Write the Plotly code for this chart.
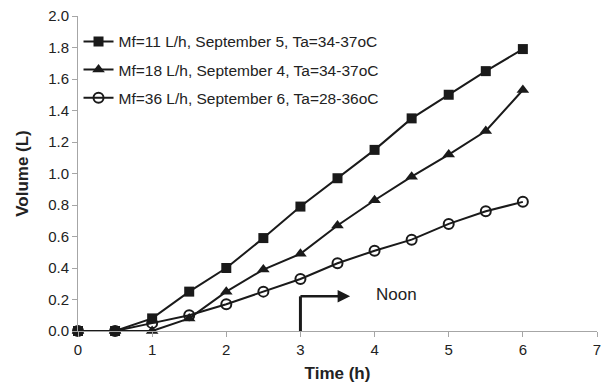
import plotly.graph_objects as go

time_h = [0, 0.5, 1, 1.5, 2, 2.5, 3, 3.5, 4, 4.5, 5, 5.5, 6]
vol_mf11 = [0, 0, 0.08, 0.25, 0.40, 0.59, 0.79, 0.97, 1.15, 1.35, 1.50, 1.65, 1.79]
vol_mf18 = [0, 0, 0.0, 0.08, 0.25, 0.39, 0.49, 0.67, 0.83, 0.98, 1.12, 1.27, 1.53]
vol_mf36 = [0, 0, 0.05, 0.10, 0.17, 0.25, 0.33, 0.43, 0.51, 0.58, 0.68, 0.76, 0.82]
names = ["Mf=11 L/h, September 5, Ta=34-37oC",
         "Mf=18 L/h, September 4, Ta=34-37oC",
         "Mf=36 L/h, September 6, Ta=28-36oC"]
noon_time = 3
noon_arrow_end = 3.67
noon_level = 0.22

INK = "#1a1a1a"
fig = go.Figure()
fig.add_trace(go.Scatter(x=time_h, y=vol_mf11, name=names[0], mode="lines+markers",
                         legendgroup="a", cliponaxis=False,
                         line=dict(color=INK, width=2),
                         marker=dict(symbol="square", size=10, color=INK)))
fig.add_trace(go.Scatter(x=time_h, y=vol_mf18, name=names[1], mode="lines+markers",
                         legendgroup="b", cliponaxis=False,
                         line=dict(color=INK, width=2),
                         marker=dict(symbol="triangle-up", size=11, color=INK)))
fig.add_trace(go.Scatter(x=time_h, y=vol_mf36, name=names[2], mode="lines+markers",
                         legendgroup="c", cliponaxis=False,
                         line=dict(color=INK, width=2),
                         marker=dict(symbol="circle-open", size=10, color=INK,
                                     line=dict(width=2, color=INK))))

# Noon annotation: elbow arrow
fig.add_shape(type="line", x0=noon_time, x1=noon_time, y0=0, y1=noon_level,
              line=dict(color=INK, width=3))
fig.add_annotation(x=noon_arrow_end, y=noon_level, ax=noon_time - 0.02, ay=noon_level,
                   xref="x", yref="y", axref="x", ayref="y",
                   showarrow=True, arrowhead=2, arrowsize=1, arrowwidth=2.5,
                   arrowcolor=INK, text="")
fig.add_annotation(x=4.29, y=noon_level + 0.01, text="Noon", showarrow=False,
                   font=dict(size=17, color="#222"), xanchor="center")

fig.update_layout(
    width=604, height=388,
    margin=dict(l=78, r=7, t=16, b=57),
    plot_bgcolor="white", paper_bgcolor="white",
    font=dict(family="Liberation Sans, Arial, sans-serif", size=15, color="#222"),
    legend=dict(x=0.001, y=0.972, xanchor="left", yanchor="top",
                bgcolor="rgba(0,0,0,0)", font=dict(size=15.5), tracegroupgap=5),
    showlegend=True,
)
fig.update_xaxes(range=[0, 7], dtick=1, showline=True, linecolor="#a6a6a6", linewidth=1,
                 ticks="outside", tickcolor="#a6a6a6", ticklen=5, showgrid=False,
                 automargin=False, zeroline=False, ticklabeloverflow="allow",
                 title=dict(text="<b>Time (h)</b>", font=dict(size=17), standoff=10))
fig.update_yaxes(range=[0, 2.0], dtick=0.2, tickformat=".1f", showline=True, linecolor="#a6a6a6",
                 linewidth=1, ticks="outside", tickcolor="#a6a6a6", ticklen=5, showgrid=False,
                 automargin=False, zeroline=False, ticklabeloverflow="allow",
                 title=dict(text="<b>Volume (L)</b>", font=dict(size=17), standoff=15))

fig.write_html("out.html", config={"displayModeBar": False},
               post_script="document.body.style.margin='0';document.body.style.overflow='hidden';")
